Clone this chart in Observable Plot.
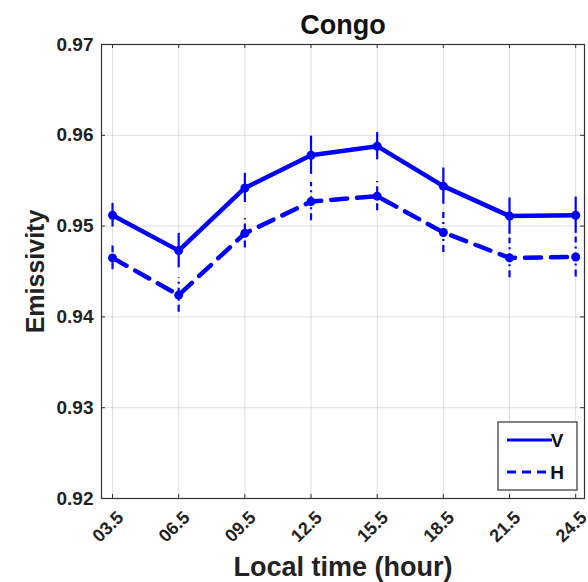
<!DOCTYPE html>
<html>
<head>
<meta charset="utf-8">
<script src="https://cdn.jsdelivr.net/npm/d3@7"></script>
<script src="https://cdn.jsdelivr.net/npm/@observablehq/plot@0.6"></script>
<style>
  html, body { margin: 0; padding: 0; background: #fff; }
  svg { display: block; }
</style>
</head>
<body>
<div id="chart"></div>
<script>
const hours = [3.5, 6.5, 9.5, 12.5, 15.5, 18.5, 21.5, 24.5];
const vValues = [0.9512, 0.9473, 0.9542, 0.9578, 0.9588, 0.9544, 0.9511, 0.9512];
const vErrors = [0.0013, 0.0019, 0.0016, 0.0021, 0.0015, 0.0020, 0.0020, 0.0020];
const hValues = [0.9465, 0.9424, 0.9492, 0.9527, 0.9533, 0.9493, 0.9465, 0.9466];
const hErrors = [0.0013, 0.0019, 0.0016, 0.0021, 0.0016, 0.0022, 0.0022, 0.0022];
const yTicks = [0.92, 0.93, 0.94, 0.95, 0.96, 0.97];
const seriesNames = ["V", "H"];
const titleText = "Congo";
const xLabel = "Local time (hour)";
const yLabel = "Emissivity";

const W = 588, H = 582;
const mL = 101, mR = 4, mT = 44, mB = 84;
const frameW = W - mL - mR, frameH = H - mT - mB;
const blue = "#0000ff";
const axisColor = "#333";
const font = "'Liberation Sans', Arial, sans-serif";

const vData = hours.map((h, i) => ({x: h, y: vValues[i], e: vErrors[i]}));
const hData = hours.map((h, i) => ({x: h, y: hValues[i], e: hErrors[i]}));

const plot = Plot.plot({
  width: W,
  height: H,
  marginLeft: mL,
  marginRight: mR,
  marginTop: mT,
  marginBottom: mB,
  style: {fontFamily: font, color: "#222", background: "#fff"},
  x: {domain: [3, 24.9]},
  y: {domain: [0.92, 0.97]},
  marks: [
    Plot.gridX(hours, {stroke: "#000", strokeOpacity: 0.13}),
    Plot.gridY(yTicks, {stroke: "#000", strokeOpacity: 0.13}),
    Plot.frame({stroke: axisColor, strokeWidth: 1.2}),
    // inward ticks on all four sides
    Plot.tickX(hours, {x: d => d, stroke: axisColor, insetTop: frameH - 4}),
    Plot.tickX(hours, {x: d => d, stroke: axisColor, insetBottom: frameH - 4}),
    Plot.tickY(yTicks, {y: d => d, stroke: axisColor, insetRight: frameW - 4}),
    Plot.tickY(yTicks, {y: d => d, stroke: axisColor, insetLeft: frameW - 4}),
    Plot.axisY({
      ticks: yTicks, tickSize: 0, tickPadding: 8, label: null,
      tickFormat: d3.format(".2f"), fontSize: 19, fontWeight: "bold", color: "#222"
    }),
    Plot.axisX({
      ticks: hours, tickSize: 0, tickPadding: 6, tickRotate: -45, label: null, dx: 8, dy: 10,
      tickFormat: d => d.toFixed(1).padStart(4, "0"), fontSize: 18, fontWeight: "bold", color: "#222"
    }),
    // error bars
    Plot.ruleX(hData, {x: "x", y1: d => d.y - d.e, y2: d => d.y + d.e, stroke: blue, strokeWidth: 2.2, strokeDasharray: "7,4,2,4"}),
    Plot.ruleX(vData, {x: "x", y1: d => d.y - d.e, y2: d => d.y + d.e, stroke: blue, strokeWidth: 2.2}),
    // lines
    Plot.line(hData, {x: "x", y: "y", stroke: blue, strokeWidth: 4.5, strokeDasharray: "16,10"}),
    Plot.line(vData, {x: "x", y: "y", stroke: blue, strokeWidth: 4.5}),
    Plot.dot(hData, {x: "x", y: "y", r: 4.5, fill: blue}),
    Plot.dot(vData, {x: "x", y: "y", r: 4.5, fill: blue}),
    // title and axis labels
    Plot.text([titleText], {text: d => d, frameAnchor: "top", lineAnchor: "middle", textAnchor: "middle", dy: -19, fontSize: 27, fontWeight: "bold", fill: "#111"}),
    Plot.text([xLabel], {text: d => d, frameAnchor: "bottom", lineAnchor: "middle", textAnchor: "middle", dy: 69, fontSize: 27, fontWeight: "bold", fill: "#222"}),
    Plot.text([yLabel], {text: d => d, frameAnchor: "left", lineAnchor: "middle", textAnchor: "middle", dx: -66, rotate: -90, fontSize: 25, fontWeight: "bold", fill: "#222"})
  ]
});

// legend (box in the lower right corner of the frame)
const svg = d3.select(plot);
const frameRight = W - mR, frameBottom = H - mB;
const lg = svg.append("g").attr("font-family", font);
const bx = frameRight - 86, by = frameBottom - 76, bw = 79, bh = 68;
lg.append("rect").attr("x", bx).attr("y", by).attr("width", bw).attr("height", bh)
  .attr("fill", "#fff").attr("stroke", axisColor).attr("stroke-width", 1.2);
seriesNames.forEach((name, i) => {
  const yy = by + 18 + i * 32;
  lg.append("line").attr("x1", bx + 9).attr("x2", bx + 54).attr("y1", yy).attr("y2", yy)
    .attr("stroke", blue).attr("stroke-width", 2.8)
    .attr("stroke-dasharray", i === 1 ? "9,6" : null);
  lg.append("text").attr("x", bx + 59).attr("y", yy).attr("dy", "0.36em")
    .attr("font-size", 19).attr("font-weight", "bold").attr("fill", "#111").text(name);
});

document.getElementById("chart").appendChild(plot);
</script>
</body>
</html>
